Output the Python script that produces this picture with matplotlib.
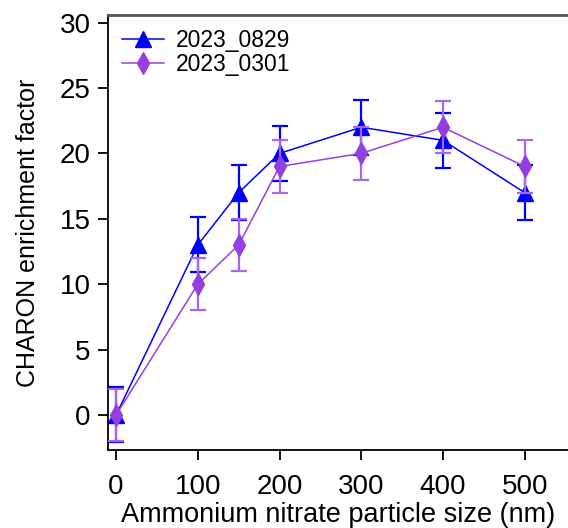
import matplotlib.pyplot as plt
from matplotlib.lines import Line2D

plt.rcParams['font.family'] = ['Liberation Sans', 'DejaVu Sans']

# particle size (nm)
sizes = [0, 100, 150, 200, 300, 400, 500]

# enrichment factors and errors for each campaign
ef_0829 = [0, 13, 17, 20, 22, 21, 17]
err_0829 = [2.1, 2.1, 2.1, 2.1, 2.1, 2.1, 2.1]
ef_0301 = [0, 10, 13, 19, 20, 22, 19]
err_0301 = [2.0, 2.0, 2.0, 2.0, 2.0, 2.0, 2.0]
labels = ['2023_0829', '2023_0301']

blue = '#0000FF'
purple = '#9440E0'

fig = plt.figure(figsize=(5.68, 5.28), dpi=100)
ax = fig.add_axes([0.190, 0.148, 0.81, 0.824])

ax.errorbar(sizes, ef_0829, yerr=err_0829, color=blue, marker='^', markersize=11,
            lw=1.1, elinewidth=1.6, capsize=5.5, capthick=1.6, zorder=2)
ax.errorbar(sizes, ef_0301, yerr=err_0301, color=purple, ecolor='#A865EE', marker='d',
            markersize=11, lw=1.1, elinewidth=1.6, capsize=5.5, capthick=1.6, zorder=3)

ax.set_xlim(-10, 553)
ax.set_ylim(-2.67, 30.6)
ax.set_xticks([0, 100, 200, 300, 400, 500])
ax.set_yticks([0, 5, 10, 15, 20, 25, 30])

ax.spines['right'].set_visible(False)
ax.spines['top'].set_color('#555555')
ax.spines['top'].set_linewidth(2)
for s in ['left', 'bottom']:
    ax.spines[s].set_linewidth(1.3)
ax.tick_params(direction='out', length=7.5, width=1.3, labelsize=20, pad=5)
ax.tick_params(axis='x', pad=10)

ax.set_xlabel('Ammonium nitrate particle size (nm)', fontsize=19.5, labelpad=1)
ax.set_ylabel('CHARON enrichment factor', fontsize=18, labelpad=14)

handles = [Line2D([], [], color=blue, marker='^', markersize=11, lw=1.1),
           Line2D([], [], color=purple, marker='d', markersize=11, lw=1.1)]
ax.legend(handles, labels, loc='upper left', frameon=False, fontsize=16.5,
          handlelength=1.85, handletextpad=0.5, borderaxespad=0.2,
          labelspacing=0.05, bbox_to_anchor=(0.0, 1.0))

fig.savefig('out.png', dpi=100)
